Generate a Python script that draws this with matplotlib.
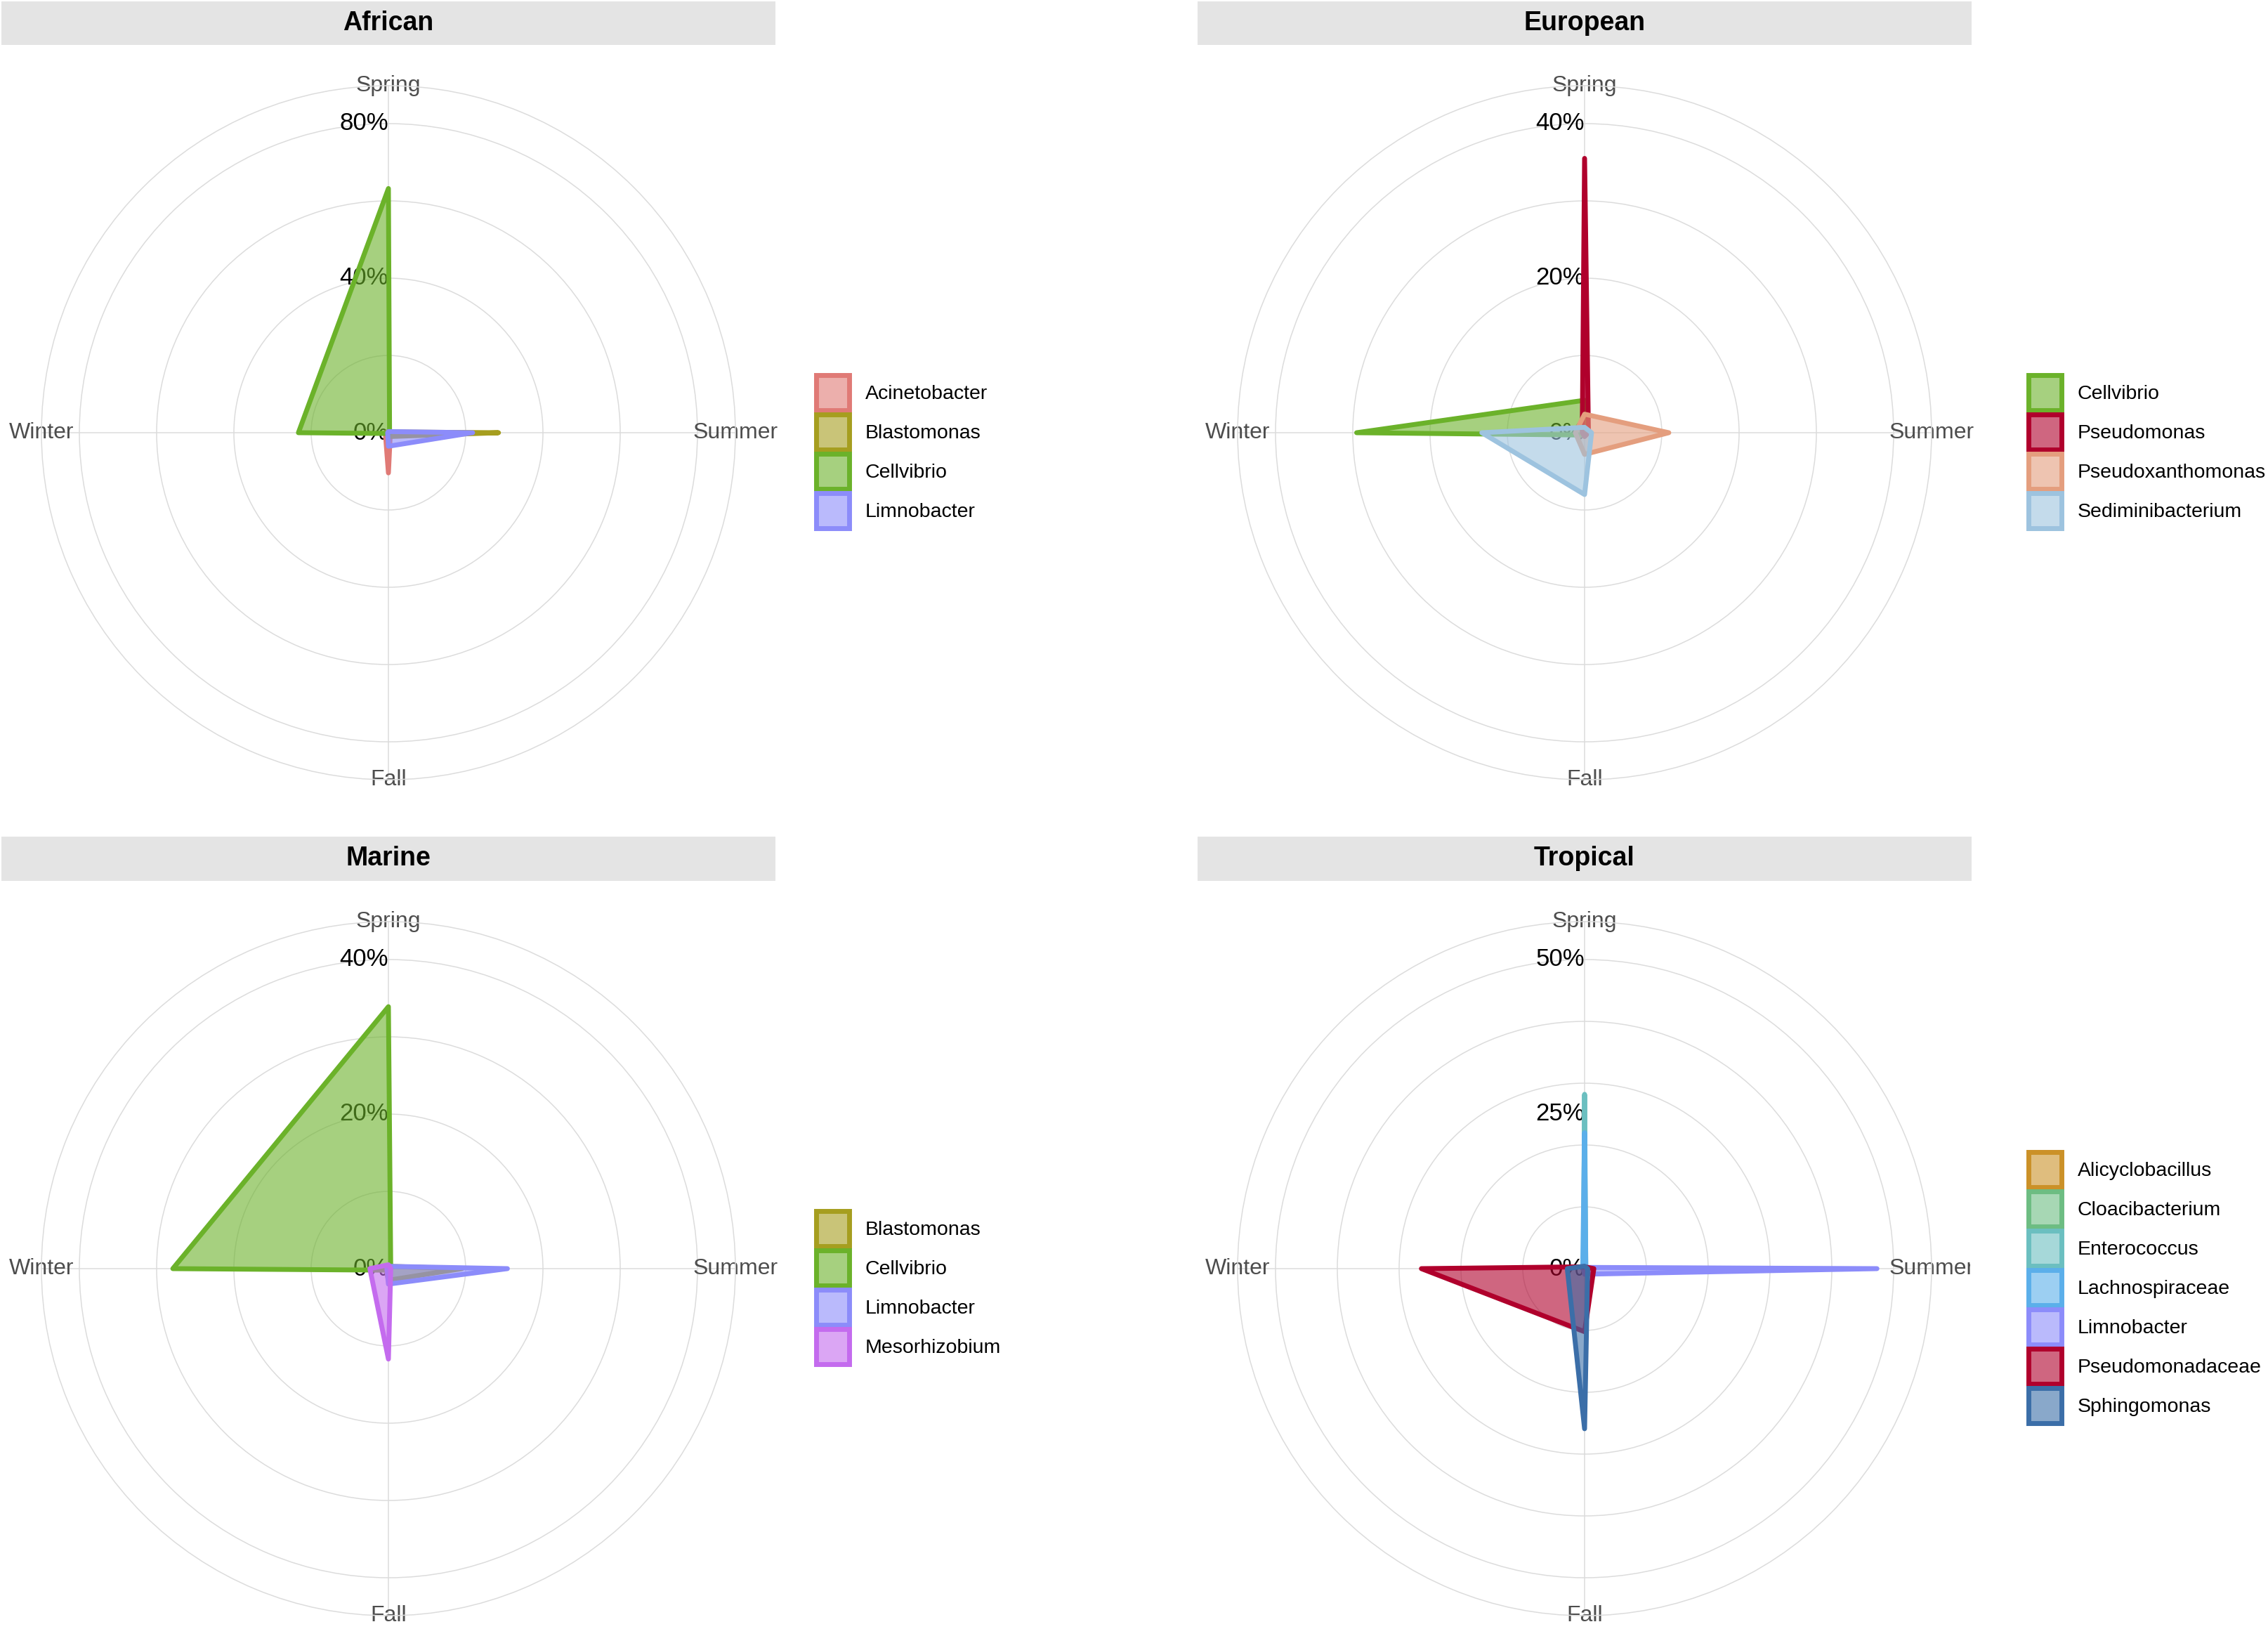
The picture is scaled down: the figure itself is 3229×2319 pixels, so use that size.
import numpy as np
import matplotlib
matplotlib.use('Agg')
from matplotlib import pyplot as plt
from matplotlib.colors import to_rgba
from matplotlib.patches import Rectangle
from matplotlib.transforms import Bbox, TransformedBbox

plt.rcParams['font.family'] = ['Liberation Sans', 'DejaVu Sans']

# relative abundance (%) per season: Spring, Summer, Fall, Winter
seasons = ['Spring', 'Summer', 'Fall', 'Winter']

african_taxa = ['Acinetobacter', 'Blastomonas', 'Cellvibrio', 'Limnobacter']
african_vals = [[0.3, 0.5, 10.4, 0.8],
                [0.2, 28.5, 1.0, 0.2],
                [63.2, 0.3, 0.2, 23.3],
                [0.3, 21.8, 3.5, 0.2]]

european_taxa = ['Cellvibrio', 'Pseudomonas', 'Pseudoxanthomonas', 'Sediminibacterium']
european_vals = [[4.2, 0.3, 0.3, 29.5],
                 [35.5, 0.5, 0.5, 0.3],
                 [2.4, 10.9, 2.8, 1.2],
                 [0.7, 0.9, 8.0, 13.3]]

marine_taxa = ['Blastomonas', 'Cellvibrio', 'Limnobacter', 'Mesorhizobium']
marine_vals = [[0.3, 9.5, 1.5, 0.3],
               [33.9, 0.3, 0.2, 27.9],
               [0.3, 15.4, 2.0, 0.2],
               [0.5, 0.3, 11.7, 2.4]]

tropical_taxa = ['Alicyclobacillus', 'Cloacibacterium', 'Enterococcus', 'Lachnospiraceae',
                 'Limnobacter', 'Pseudomonadaceae', 'Sphingomonas']
tropical_vals = [[0.5, 0.3, 0.3, 0.3],
                 [0.8, 0.3, 0.3, 0.3],
                 [28.2, 0.2, 0.2, 0.2],
                 [22.0, 0.2, 0.2, 0.3],
                 [0.2, 47.3, 0.9, 0.2],
                 [0.3, 1.5, 10.2, 26.4],
                 [0.4, 0.5, 25.9, 2.8]]

# grid circles and labelled levels for each panel
african_grid, african_labels = [20, 40, 60, 80], [0, 40, 80]
european_grid, european_labels = [10, 20, 30, 40], [0, 20, 40]
marine_grid, marine_labels = [10, 20, 30, 40], [0, 20, 40]
tropical_grid, tropical_labels = [10, 20, 30, 40, 50], [0, 25, 50]

colours = {
    'Acinetobacter': '#E07A76',
    'Blastomonas': '#A69E1F',
    'Cellvibrio': '#6BB22A',
    'Limnobacter': '#8C8CFA',
    'Mesorhizobium': '#C46BEE',
    'Pseudomonas': '#B0002C',
    'Pseudoxanthomonas': '#E49E7E',
    'Sediminibacterium': '#9DC3DF',
    'Alicyclobacillus': '#CB9128',
    'Cloacibacterium': '#6DBD82',
    'Enterococcus': '#6BBFC0',
    'Lachnospiraceae': '#5BAFEA',
    'Pseudomonadaceae': '#B0002C',
    'Sphingomonas': '#3B6EA8',
}

W, H = 3229, 2319
fig = plt.figure(figsize=(W / 100, H / 100), dpi=100)

GRID = '#DCDCDC'
R_OUT = 494          # px radius of the outer circle
OUT_FRAC = 1.1227    # outer circle relative to top label

# title, taxa, values, grid, labels, column, row, right clip edge (px)
panels = [
    ('African', african_taxa, african_vals, african_grid, african_labels, 0, 0, 1112),
    ('European', european_taxa, european_vals, european_grid, european_labels, 1, 0, 2814),
    ('Marine', marine_taxa, marine_vals, marine_grid, marine_labels, 0, 1, 1112),
    ('Tropical', tropical_taxa, tropical_vals, tropical_grid, tropical_labels, 1, 1, 2805),
]

cx_px = [553, 2256]
cy_px = [616, 1806]
strip_x = [(2, 1104), (1705, 2807)]
strip_y = [(2, 64), (1191, 1254)]
leg_x = [1162, 2888]
leg_y = [643, 1833]
clip_left = [0, 1700]

theta = np.array([0, 0.5, 1.0, 1.5]) * np.pi


def fx(x):
    return x / W


def fy(y):
    return 1 - y / H


for title, taxa, vals, grid, labels, col, row, clip_right in panels:
    cx, cy = cx_px[col], cy_px[row]

    # facet strip
    sx0, sx1 = strip_x[col]
    sy0, sy1 = strip_y[row]
    fig.patches.append(Rectangle((fx(sx0), fy(sy1)), fx(sx1 - sx0), (sy1 - sy0) / H,
                                 transform=fig.transFigure, facecolor='#E4E4E4',
                                 edgecolor='none', zorder=0))
    fig.text(fx((sx0 + sx1) / 2), fy((sy0 + sy1) / 2), title, ha='center', va='center',
             fontsize=27, fontweight='bold', color='black')

    ax = fig.add_axes([fx(cx - R_OUT), fy(cy + R_OUT), 2 * R_OUT / W, 2 * R_OUT / H],
                      projection='polar')
    ax.set_theta_zero_location('N')
    ax.set_theta_direction(-1)
    top = max(labels)
    ax.set_ylim(0, top * OUT_FRAC)
    ax.set_yticks(grid)
    ax.set_yticklabels([])
    ax.set_xticks(theta)
    ax.set_xticklabels([])
    ax.tick_params(length=0)
    ax.grid(True, color=GRID, linewidth=1.1)
    ax.set_axisbelow(True)
    ax.spines['polar'].set_color(GRID)
    ax.spines['polar'].set_linewidth(1.1)

    # percent labels along the spring axis
    for lv in labels:
        ax.text(0, lv, f'{lv}%', ha='right', va='center', fontsize=25,
                color='black', zorder=1.5)

    # season labels, clipped to the panel area
    clip = TransformedBbox(Bbox([[fx(clip_left[col]), fy(cy + 560)],
                                 [fx(clip_right), fy(cy - 560)]]), fig.transFigure)
    for th, s in zip(theta, seasons):
        t = ax.text(th, top * OUT_FRAC, s, ha='center', va='center', fontsize=23,
                    color='#4D4D4D', zorder=1.5)
        t.set_clip_on(True)
        t.set_clip_box(clip)

    handles = []
    for name, v in zip(taxa, vals):
        c = colours[name]
        th_c = np.append(theta, theta[0])
        v_c = np.append(v, v[0])
        h = ax.fill(th_c, v_c, facecolor=to_rgba(c, 0.6), edgecolor=c,
                    linewidth=5, joinstyle='round', zorder=3, label=name)[0]
        handles.append(h)

    fig.legend(handles=handles, loc='center left',
               bbox_to_anchor=(fx(leg_x[col]), fy(leg_y[row])),
               frameon=False, fontsize=20.5, handlelength=1.66, handleheight=2.28,
               labelspacing=0.24, handletextpad=0.78, borderpad=0, borderaxespad=0)

fig.savefig('out.png', dpi=100, facecolor='white')
